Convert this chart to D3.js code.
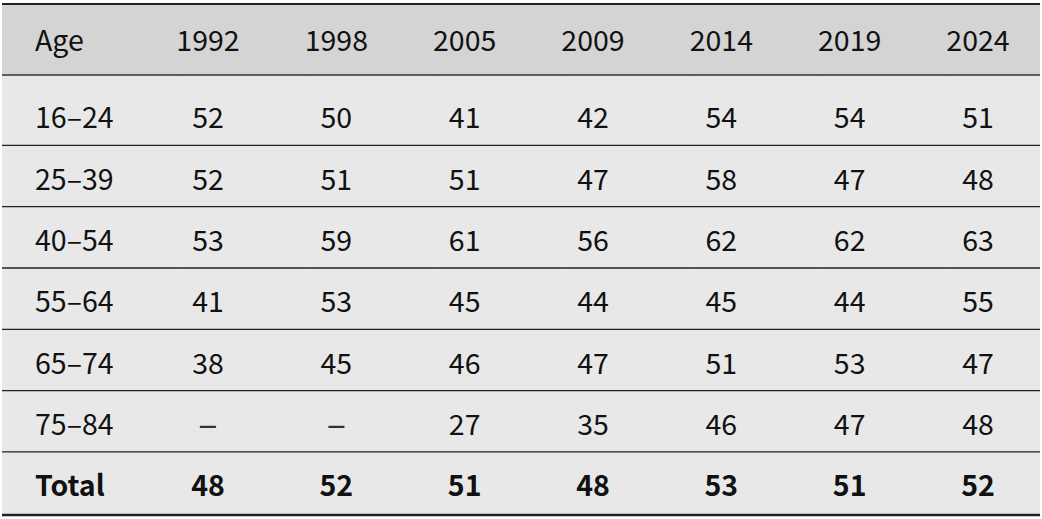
<!DOCTYPE html>
<html>
<head>
<meta charset="utf-8">
<script src="https://cdn.jsdelivr.net/npm/d3@7"></script>
<style>
  html, body { margin: 0; padding: 0; background: #ffffff; }
  svg { display: block; }
  text { font-family: "Noto Sans CJK SC", "Source Sans Pro", "Noto Sans", sans-serif; }
</style>
</head>
<body>
<svg id="chart" width="1042" height="519"></svg>
<script>
// ---- data ----
const years = ["1992", "1998", "2005", "2009", "2014", "2019", "2024"];
const ageGroups = ["16–24", "25–39", "40–54", "55–64", "65–74", "75–84"];
const v16_24 = [52, 50, 41, 42, 54, 54, 51];
const v25_39 = [52, 51, 51, 47, 58, 47, 48];
const v40_54 = [53, 59, 61, 56, 62, 62, 63];
const v55_64 = [41, 53, 45, 44, 45, 44, 55];
const v65_74 = [38, 45, 46, 47, 51, 53, 47];
const v75_84 = [null, null, 27, 35, 46, 47, 48];
const totals = [48, 52, 51, 48, 53, 51, 52];
const headerLabel = "Age";
const totalLabel = "Total";
const missingMark = "–";

const rows = [
  { label: ageGroups[0], values: v16_24, bold: false },
  { label: ageGroups[1], values: v25_39, bold: false },
  { label: ageGroups[2], values: v40_54, bold: false },
  { label: ageGroups[3], values: v55_64, bold: false },
  { label: ageGroups[4], values: v65_74, bold: false },
  { label: ageGroups[5], values: v75_84, bold: false },
  { label: totalLabel, values: totals, bold: true }
];

// ---- layout ----
const svg = d3.select("#chart");
const tLeft = 2, tRight = 1040;
const tTop = 4, headerBottom = 75, bodyTop = 84, tBottom = 515;
const fontSize = 28.5;

const x = d3.scalePoint().domain(years).range([208, 978]);
const labelX = 35;
const y = d3.scaleBand().domain(d3.range(rows.length)).range([bodyTop, tBottom - 1.7]).padding(0);

// backgrounds
svg.append("rect").attr("x", tLeft).attr("y", tTop).attr("width", tRight - tLeft)
  .attr("height", headerBottom - tTop).attr("fill", "#d4d4d4");
svg.append("rect").attr("x", tLeft).attr("y", headerBottom).attr("width", tRight - tLeft)
  .attr("height", tBottom - headerBottom).attr("fill", "#e8e8e8");

// faint cell seams
svg.selectAll("line.seam").data(years).join("line").attr("class", "seam")
  .attr("x1", d => Math.round(x(d) - 31) + 0.5).attr("x2", d => Math.round(x(d) - 31) + 0.5)
  .attr("y1", tTop).attr("y2", tBottom)
  .attr("stroke", "#ffffff").attr("stroke-opacity", 0.09).attr("stroke-width", 1);

// header
const header = svg.append("g");
header.append("text").attr("x", labelX).attr("y", (tTop + headerBottom) / 2 + 1.5)
  .attr("dy", "0.35em").attr("font-size", fontSize).attr("fill", "#111").text(headerLabel);
header.selectAll("text.yr").data(years).join("text").attr("class", "yr")
  .attr("x", d => x(d)).attr("y", (tTop + headerBottom) / 2 + 1.5)
  .attr("dy", "0.35em").attr("text-anchor", "middle")
  .attr("font-size", fontSize).attr("fill", "#111").text(d => d);

// body rows
const rowG = svg.selectAll("g.row").data(rows).join("g").attr("class", "row")
  .attr("transform", (d, i) => `translate(0,${y(i) + y.bandwidth() / 2 + 3.8})`);
rowG.append("text").attr("x", labelX).attr("dy", "0.35em")
  .attr("font-size", fontSize).attr("font-weight", d => d.bold ? 700 : 400)
  .attr("fill", "#111").text(d => d.label);
rowG.selectAll("text.val").data(d => d.values.map((v, j) => ({ v, year: years[j], bold: d.bold })))
  .join("text").attr("class", "val")
  .attr("x", d => x(d.year))
  .attr("dy", d => d.v == null ? 0.35 * fontSize + 2.2 : 0.35 * fontSize)
  .attr("text-anchor", "middle")
  .attr("font-size", d => d.v == null ? 36 : fontSize)
  .attr("font-weight", d => d.bold ? 700 : 400)
  .attr("fill", d => d.v == null ? "#333" : "#111")
  .text(d => d.v == null ? missingMark : d.v);

// rules
svg.append("line").attr("x1", tLeft).attr("x2", tRight).attr("y1", tTop).attr("y2", tTop)
  .attr("stroke", "#222").attr("stroke-width", 2);
svg.append("line").attr("x1", tLeft).attr("x2", tRight).attr("y1", headerBottom).attr("y2", headerBottom)
  .attr("stroke", "#333").attr("stroke-width", 1.3);
svg.selectAll("line.sep").data(d3.range(1, rows.length)).join("line").attr("class", "sep")
  .attr("x1", tLeft).attr("x2", tRight)
  .attr("y1", i => y(i)).attr("y2", i => y(i))
  .attr("stroke", "#222").attr("stroke-width", 1.3);
svg.append("line").attr("x1", tLeft).attr("x2", tRight).attr("y1", tBottom).attr("y2", tBottom)
  .attr("stroke", "#222").attr("stroke-width", 2.5);
</script>
</body>
</html>
